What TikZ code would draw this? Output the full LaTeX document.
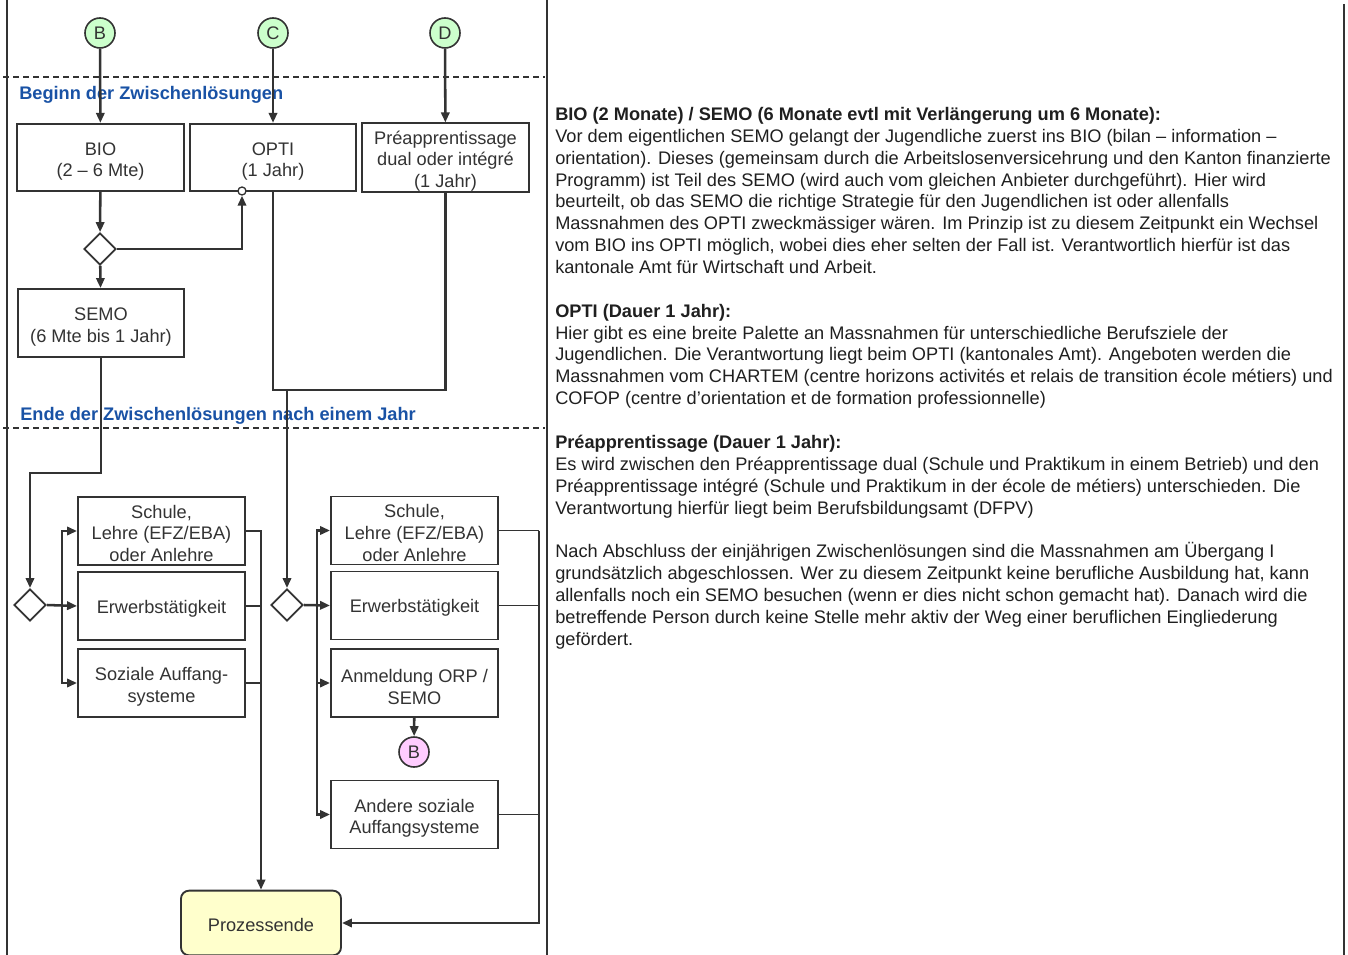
\documentclass[tikz,border=0pt]{standalone}
\usepackage{fontspec}
\setmainfont{Liberation Sans}
\usetikzlibrary{arrows.meta,shapes.geometric}
\definecolor{ln}{RGB}{51,51,51}
\definecolor{txt}{RGB}{51,51,51}
\definecolor{blu}{RGB}{25,82,165}
\definecolor{grn}{RGB}{204,255,204}
\definecolor{pnk}{RGB}{255,204,255}
\definecolor{ylw}{RGB}{255,255,204}
\newcommand{\ftop}{\rule{0pt}{15.5pt}}
\newcommand{\sgltop}{\rule{0pt}{13.6pt}}
\begin{document}
\begin{tikzpicture}[x=0.75pt,y=-0.75pt,
  every node/.style={font=\fontsize{13.65pt}{16.4pt}\selectfont, text=txt},
  box/.style={draw=ln, line width=1.4pt, fill=white, minimum width=125.25pt, minimum height=50.5pt, inner sep=0pt, align=center},
  conn/.style={draw=ln, line width=1.9pt},
  thinconn/.style={draw=ln, line width=1.2pt},
  arr/.style={conn, -{Triangle[length=7.5pt,width=6.2pt]}},
  lbl/.style={circle, draw=ln, line width=1.2pt, minimum size=22.5pt, inner sep=0pt},
  dec/.style={diamond, aspect=1, draw=ln, line width=1.4pt, fill=white, minimum size=24pt, inner sep=0pt},
  zone/.style={text=blu, font=\fontsize{13.65pt}{16.4pt}\selectfont\bfseries, anchor=base west, inner sep=0pt},
  sep/.style={draw=ln, line width=1pt, dash pattern=on 4.5pt off 3pt},
  border/.style={draw=ln, line width=1.5pt}
]
\useasboundingbox (0,0) rectangle (1348,955);
% frame lines
\draw[border] (7,0) -- (7,955);
\draw[border] (547,0) -- (547,955);
\draw[border] (1344,4) -- (1344,955);
\draw[sep] (3,77) -- (545,77);
\draw[sep] (3,428) -- (545,428);

\node[lbl, fill=grn] (cB) at (100,33) {B};
\node[lbl, fill=grn] (cC) at (273,33) {C};
\node[lbl, fill=grn] (cD) at (445,33) {D};

\node[zone] (zbeg) at (19,100) {Beginn der Zwischenlösungen};
\node[zone] (zend) at (20,420) {Ende der Zwischenlösungen nach einem Jahr};

\node[box] (bio) at (100.5,157.5) {\ftop BIO\\(2 – 6 Mte)};
\node[box, minimum width=124.5pt] (opti) at (273,157.5) {\ftop OPTI\\(1 Jahr)};
\node[box] (prea) at (445.5,157.5) {\ftop Préapprentissage\\dual oder intégré\\(1 Jahr)};

\node[dec] (d1) at (100,249) {};
\node[box, minimum width=124.5pt, minimum height=51pt] (semo) at (101,323) {\ftop SEMO\\(6 Mte bis 1 Jahr)};
\node[circle, draw=ln, line width=1pt, fill=white, minimum size=6pt, inner sep=0pt] (oc) at (242,191) {};

\node[dec] (d2) at (30,605) {};
\node[dec] (d3) at (287,605) {};

\node[box, minimum height=51pt] (s1) at (161.5,531) {\sgltop Schule,\\Lehre (EFZ/EBA)\\oder Anlehre};
\node[box, minimum height=51pt] (e1) at (161.5,606) {\sgltop Erwerbstätigkeit};
\node[box, minimum height=51pt] (so1) at (161.5,683) {\ftop Soziale Auffang-\\systeme};

\node[box, minimum height=51pt] (s2) at (414.5,530.5) {\sgltop Schule,\\Lehre (EFZ/EBA)\\oder Anlehre};
\node[box, minimum height=51pt] (e2) at (414.5,605.5) {\sgltop Erwerbstätigkeit};
\node[box, minimum height=51pt] (an2) at (414.5,683) {\ftop Anmeldung ORP /\\SEMO};
\node[lbl, fill=pnk] (cB2) at (414,752) {B};
\node[box, minimum height=51pt] (and2) at (414.5,814.5) {\ftop Andere soziale\\Auffangsysteme};

\node[box, fill=ylw, rounded corners=6pt, minimum width=120pt, minimum height=48.5pt] (pe) at (261,923) {\sgltop Prozessende};

\coordinate (j1) at (287,390);
\coordinate (k1) at (30,473);
\coordinate (lb1) at (62,0);
\coordinate (lb2) at (317,0);
\coordinate (rb2) at (539,0);

\draw[arr] (cB) -- (bio);
\draw[arr] (cC) -- (opti);
\draw[arr] (cD) -- (prea);
\draw[arr] (bio) -- (d1);
\draw[arr] (d1) -- (semo);
\draw[arr] (d1.east) -| (oc.south);
\draw[conn] (opti.south) |- (j1) -| (prea.south);
\draw[arr] (j1) -- (d3.north);
\draw[arr] (semo.south) |- (k1) -- (d2.north);

% lower left
\draw[arr] (d2.east) -- (e1.west);
\draw[arr] (d2.east -| lb1) |- (s1.west);
\draw[arr] (d2.east -| lb1) |- (so1.west);
\draw[arr] (s1.east) -| (pe.north);
\draw[thinconn] (e1.east) -- (e1.east -| pe.north);
\draw[thinconn] (so1.east) -- (so1.east -| pe.north);

% lower middle
\draw[arr] (d3.east) -- (e2.west);
\draw[arr] (d3.east -| lb2) |- (s2.west);
\draw[arr] (d3.east -| lb2) |- (an2.west);
\draw[arr] (d3.east -| lb2) |- (and2.west);
\draw[arr] (an2) -- (cB2);
\draw[thinconn] (s2.east) -- (s2.east -| rb2);
\draw[thinconn] (e2.east) -- (e2.east -| rb2);
\draw[thinconn] (and2.east) -- (and2.east -| rb2);
\draw[arr] (s2.east -| rb2) -- (rb2 |- pe.east) -- (pe.east);

% description text
\node[anchor=north west, inner sep=0pt, align=left, text=black!88] (desc) at (555,107) {%
\textbf{BIO (2 Monate) / SEMO (6 Monate evtl mit Verlängerung um 6 Monate):}\\
Vor dem eigentlichen SEMO gelangt der Jugendliche zuerst ins BIO (bilan – information –\\
orientation). Dieses (gemeinsam durch die Arbeitslosenversicehrung und den Kanton finanzierte\\
Programm) ist Teil des SEMO (wird auch vom gleichen Anbieter durchgeführt). Hier wird\\
beurteilt, ob das SEMO die richtige Strategie für den Jugendlichen ist oder allenfalls\\
Massnahmen des OPTI zweckmässiger wären. Im Prinzip ist zu diesem Zeitpunkt ein Wechsel\\
vom BIO ins OPTI möglich, wobei dies eher selten der Fall ist. Verantwortlich hierfür ist das\\
kantonale Amt für Wirtschaft und Arbeit.\\[16.4pt]
\textbf{OPTI (Dauer 1 Jahr):}\\
Hier gibt es eine breite Palette an Massnahmen für unterschiedliche Berufsziele der\\
Jugendlichen. Die Verantwortung liegt beim OPTI (kantonales Amt). Angeboten werden die\\
Massnahmen vom CHARTEM (centre horizons activités et relais de transition école métiers) und\\
COFOP (centre d’orientation et de formation professionnelle)\\[16.4pt]
\textbf{Préapprentissage (Dauer 1 Jahr):}\\
Es wird zwischen den Préapprentissage dual (Schule und Praktikum in einem Betrieb) und den\\
Préapprentissage intégré (Schule und Praktikum in der école de métiers) unterschieden. Die\\
Verantwortung hierfür liegt beim Berufsbildungsamt (DFPV)\\[16.4pt]
Nach Abschluss der einjährigen Zwischenlösungen sind die Massnahmen am Übergang I\\
grundsätzlich abgeschlossen. Wer zu diesem Zeitpunkt keine berufliche Ausbildung hat, kann\\
allenfalls noch ein SEMO besuchen (wenn er dies nicht schon gemacht hat). Danach wird die\\
betreffende Person durch keine Stelle mehr aktiv der Weg einer beruflichen Eingliederung\\
gefördert.};
\end{tikzpicture}
\end{document}
